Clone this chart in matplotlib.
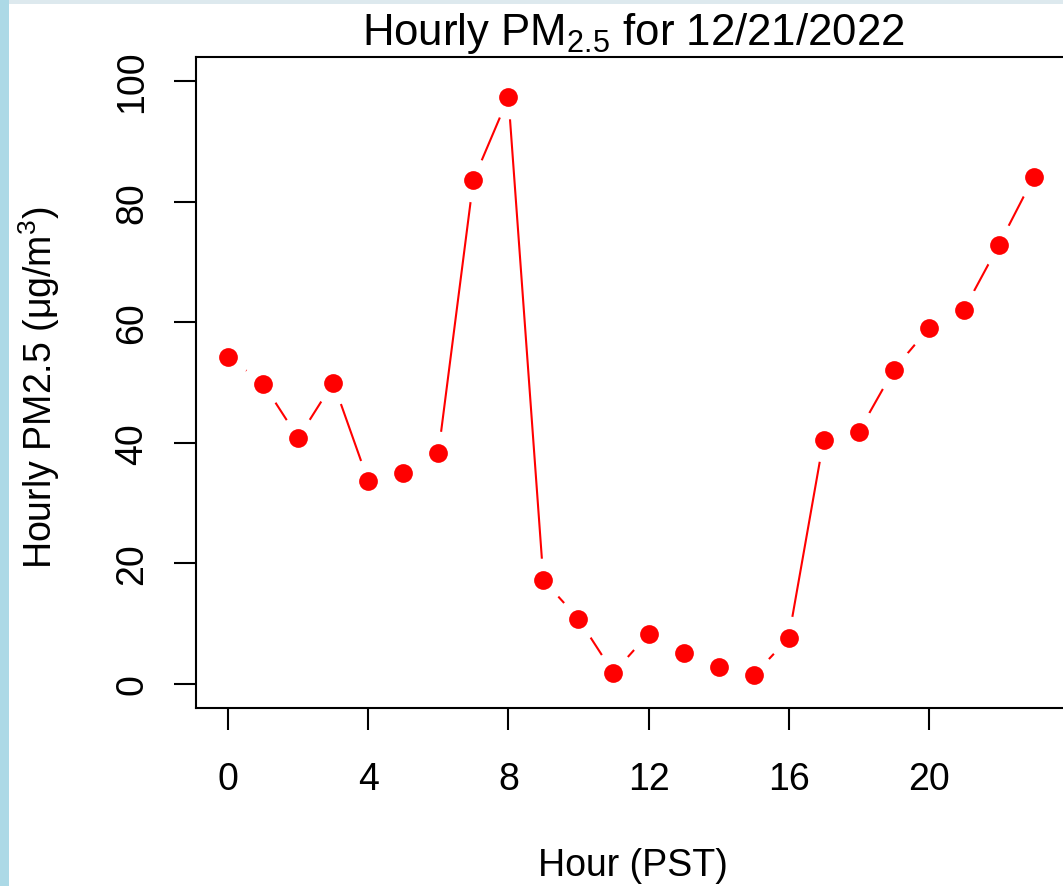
import matplotlib
matplotlib.use("Agg")
import matplotlib.pyplot as plt
from matplotlib.patches import Rectangle

hours = list(range(24))
pm25 = [54.3, 49.8, 40.8, 50.0, 33.6, 35.0, 38.3, 83.6, 97.3, 17.2, 10.8, 1.8,
        8.3, 5.1, 2.8, 1.4, 7.6, 40.5, 41.8, 52.1, 59.0, 62.0, 72.8, 84.1]
xticks = [0, 4, 8, 12, 16, 20]
yticks = [0, 20, 40, 60, 80, 100]

plt.rcParams['font.family'] = ['Liberation Sans', 'DejaVu Sans']
plt.rcParams['mathtext.fontset'] = 'custom'
plt.rcParams['mathtext.rm'] = 'Liberation Sans'
plt.rcParams['mathtext.it'] = 'Liberation Sans'
plt.rcParams['mathtext.default'] = 'regular'

W, H = 1063, 887
fig = plt.figure(figsize=(W / 100, H / 100), dpi=100)
fig.patch.set_facecolor('#acd9e6')
fig.patches.append(Rectangle((9 / W, 1 - 5 / H), 1, 5 / H, transform=fig.transFigure,
                             facecolor='#dde9ee', edgecolor='none', zorder=-5))
fig.patches.append(Rectangle((9 / W, 0), 1, 1 - 5 / H, transform=fig.transFigure,
                             facecolor='white', edgecolor='none', zorder=-5))

left, right, top, bottom = 196, 1066, 58, 709
ax = fig.add_axes([left / W, 1 - bottom / H, (right - left) / W, (bottom - top) / H])
ax.set_zorder(1)
ax.set_xlim(-0.92, 23.92)
ax.set_ylim(-4, 104)

ax.plot(hours, pm25, color='red', lw=1.5, zorder=2)
ax.plot(hours, pm25, 'o', color='white', ms=31.5, mec='none', zorder=3)
ax.plot(hours, pm25, 'o', color='red', ms=13.5, mec='none', zorder=4)

for s in ax.spines.values():
    s.set_linewidth(1.5)
ax.set_xticks(xticks)
ax.set_yticks(yticks)
ax.tick_params(axis='both', direction='out', length=16, width=1.5, labelsize=27)
ax.tick_params(axis='x', pad=22)
ax.tick_params(axis='y', pad=17)
for lab in ax.get_yticklabels():
    lab.set_rotation(90)
    lab.set_va('center')

fig.text(633 / W, 1 - 33 / H, r'Hourly PM$_{2.5}$ for 12/21/2022', ha='center', va='center',
         fontsize=31.5, zorder=5)
fig.text(633 / W, 1 - 866 / H, 'Hour (PST)', ha='center', va='center', fontsize=27, zorder=5)
fig.text(39 / W, 1 - 388 / H, r'Hourly PM2.5 (μg/m$^3$)', ha='center', va='center',
         rotation=90, fontsize=27, zorder=5)

fig.savefig('out.png', dpi=100, facecolor=fig.get_facecolor())
